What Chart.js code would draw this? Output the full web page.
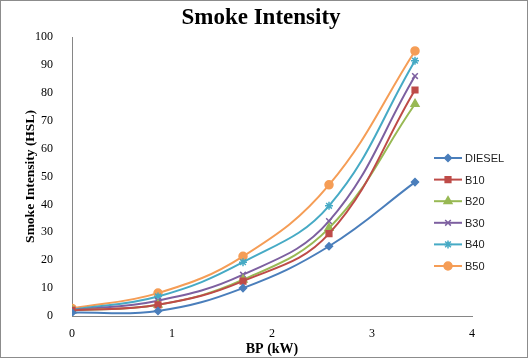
<!DOCTYPE html>
<html>
<head>
<meta charset="utf-8">
<script src="https://cdn.jsdelivr.net/npm/chart.js@4/dist/chart.umd.min.js"></script>
<style>
  html, body { margin: 0; padding: 0; background: #fff; }
  #wrap { width: 528px; height: 358px; position: relative; }
</style>
</head>
<body>
<div id="wrap"><canvas id="chart" width="528" height="358"></canvas></div>
<script>
const bp = [0, 0.86, 1.71, 2.57, 3.43];
const diesel = [1.2, 1.8, 10, 25, 48];
const b10 = [2, 4, 12.5, 29.5, 81];
const b20 = [2, 4, 13, 31.5, 76];
const b30 = [2, 5.5, 14.8, 34, 86];
const b40 = [2.3, 7, 19.3, 39.5, 91.5];
const b50 = [2.7, 8.2, 21.4, 47, 95];
const xTicks = [0, 1, 2, 3, 4];

const series = [
  { label: "DIESEL", data: diesel, color: "#4A7EBB", marker: "rectRot", r: 3.5 },
  { label: "B10", data: b10, color: "#BE4B48", marker: "rect", r: 4 },
  { label: "B20", data: b20, color: "#98B954", marker: "triangle", r: 4.5 },
  { label: "B30", data: b30, color: "#7D60A0", marker: "crossRot", r: 4 },
  { label: "B40", data: b40, color: "#46AAC5", marker: "star", r: 4 },
  { label: "B50", data: b50, color: "#F59D56", marker: "circle", r: 4 }
];

// white background, outer frame, title and right-side legend
const decor = {
  id: "decor",
  beforeDraw(chart) {
    const ctx = chart.ctx;
    ctx.save();
    ctx.fillStyle = "#fff";
    ctx.fillRect(0, 0, chart.width, chart.height);
    ctx.restore();
  },
  afterDraw(chart) {
    const ctx = chart.ctx;
    ctx.save();
    ctx.strokeStyle = "#8c8c8c";
    ctx.lineWidth = 1;
    ctx.strokeRect(0.5, 0.5, chart.width - 1, chart.height - 1);

    ctx.fillStyle = "#000";
    ctx.font = "bold 23px 'Liberation Serif', serif";
    ctx.textAlign = "center";
    ctx.textBaseline = "middle";
    ctx.fillText("Smoke Intensity", 261, 18);

    ctx.font = "11px 'Liberation Sans', sans-serif";
    ctx.textAlign = "left";
    chart.data.datasets.forEach((ds, i) => {
      const y = 158 + i * 21.6;
      ctx.strokeStyle = ds.borderColor;
      ctx.lineWidth = 2;
      ctx.beginPath();
      ctx.moveTo(434, y);
      ctx.lineTo(462, y);
      ctx.stroke();
      ctx.fillStyle = ds.borderColor;
      ctx.lineWidth = 1.5;
      Chart.helpers.drawPoint(ctx, {
        pointStyle: ds.pointStyle,
        radius: ds.pointRadius,
        borderWidth: 1.5,
        rotation: 0
      }, 448, y);
      ctx.fillStyle = "#222";
      ctx.fillText(ds.label, 465, y + 1);
    });
    ctx.restore();
  }
};

new Chart(document.getElementById("chart"), {
  type: "line",
  data: {
    datasets: series.map(s => ({
      label: s.label,
      data: bp.map((x, i) => ({ x: x, y: s.data[i] })),
      borderColor: s.color,
      backgroundColor: s.color,
      borderWidth: 2,
      tension: 0.4,
      pointStyle: s.marker,
      pointRadius: s.r,
      pointBorderWidth: 1.5,
      pointBorderColor: s.color,
      pointBackgroundColor: s.color
    }))
  },
  options: {
    responsive: false,
    animation: false,
    devicePixelRatio: 1,
    layout: {
      padding: { top: 37, right: 56, bottom: 0, left: 0 }
    },
    plugins: {
      legend: { display: false },
      title: { display: false },
      tooltip: { enabled: false }
    },
    scales: {
      x: {
        type: "linear",
        min: 0,
        max: 4,
        afterBuildTicks: (axis) => { axis.ticks = xTicks.map(v => ({ value: v })); },
        grid: { display: false },
        border: { color: "#868686", width: 1 },
        ticks: {
          color: "#000",
          padding: 3,
          font: { family: "'Liberation Serif', serif", size: 12 }
        },
        title: {
          display: true,
          text: "BP (kW)",
          color: "#000",
          font: { family: "'Liberation Serif', serif", size: 14, weight: "bold" },
          padding: { top: 0, bottom: 0 }
        },
        afterFit: (axis) => { axis.height = 42; }
      },
      y: {
        min: 0,
        max: 100,
        grid: { display: false },
        border: { color: "#868686", width: 1 },
        ticks: {
          stepSize: 10,
          color: "#000",
          padding: 11,
          font: { family: "'Liberation Serif', serif", size: 12 }
        },
        title: {
          display: true,
          text: "Smoke Intensity (HSL)",
          color: "#000",
          font: { family: "'Liberation Serif', serif", size: 13.5, weight: "bold" },
          padding: { top: 22, bottom: 0 }
        },
        afterFit: (axis) => { axis.width = 72; }
      }
    }
  },
  plugins: [decor]
});
</script>
</body>
</html>
